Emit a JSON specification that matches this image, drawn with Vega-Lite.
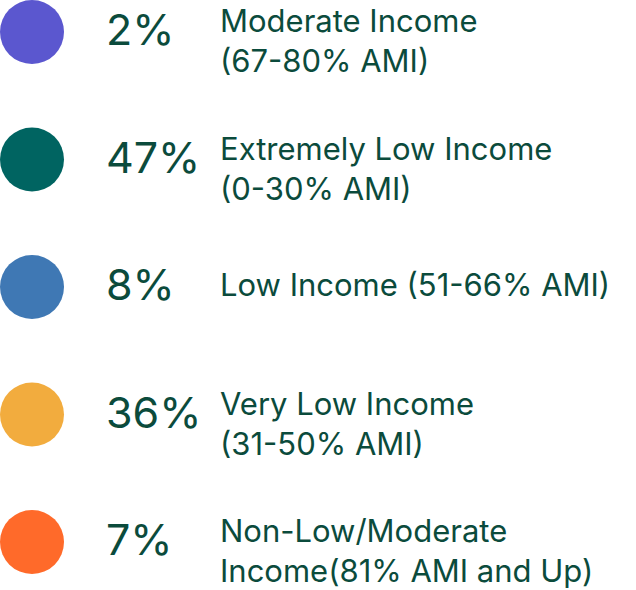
{
  "$schema": "https://vega.github.io/schema/vega-lite/v6.json",
  "autosize": {"type": "fit", "contains": "padding"},
  "width": 636,
  "height": 590,
  "padding": 0,
  "background": "white",
  "data": {
    "values": [
      {"order": 1, "group": "Moderate", "pct": "2%", "label": "Moderate Income\n(67-80% AMI)", "lines": 2},
      {"order": 2, "group": "Extremely Low", "pct": "47%", "label": "Extremely Low Income\n(0-30% AMI)", "lines": 2},
      {"order": 3, "group": "Low", "pct": "8%", "label": "Low Income (51-66% AMI)", "lines": 1},
      {"order": 4, "group": "Very Low", "pct": "36%", "label": "Very Low Income\n(31-50% AMI)", "lines": 2},
      {"order": 5, "group": "Non-Low/Moderate", "pct": "7%", "label": "Non-Low/Moderate\nIncome(81% AMI and Up)", "lines": 2}
    ]
  },
  "encoding": {
    "y": {
      "field": "order",
      "type": "ordinal",
      "axis": null,
      "scale": {"type": "point", "range": [32, 542], "padding": 0}
    }
  },
  "layer": [
    {
      "mark": {"type": "circle", "size": 4096, "opacity": 1},
      "encoding": {
        "x": {"value": 32},
        "color": {
          "field": "group",
          "type": "nominal",
          "legend": null,
          "scale": {
            "domain": ["Moderate", "Extremely Low", "Low", "Very Low", "Non-Low/Moderate"],
            "range": ["#5B57CF", "#006461", "#3F78B4", "#F2AC3E", "#FF6A2A"]
          }
        }
      }
    },
    {
      "mark": {"type": "text", "align": "left", "baseline": "middle", "font": "Inter", "fontSize": 43, "color": "#0B4B3C"},
      "encoding": {"x": {"value": 106}, "text": {"field": "pct"}}
    },
    {
      "transform": [{"filter": "datum.lines == 2"}],
      "mark": {"type": "text", "align": "left", "baseline": "alphabetic", "lineBreak": "\n", "lineHeight": 40, "font": "Inter", "fontSize": 31, "color": "#0B4B3C"},
      "encoding": {"x": {"value": 220}, "text": {"field": "label"}}
    },
    {
      "transform": [{"filter": "datum.lines == 1"}],
      "mark": {"type": "text", "align": "left", "baseline": "middle", "font": "Inter", "fontSize": 31, "color": "#0B4B3C"},
      "encoding": {"x": {"value": 220}, "text": {"field": "label"}}
    }
  ],
  "config": {"view": {"stroke": null}}
}
